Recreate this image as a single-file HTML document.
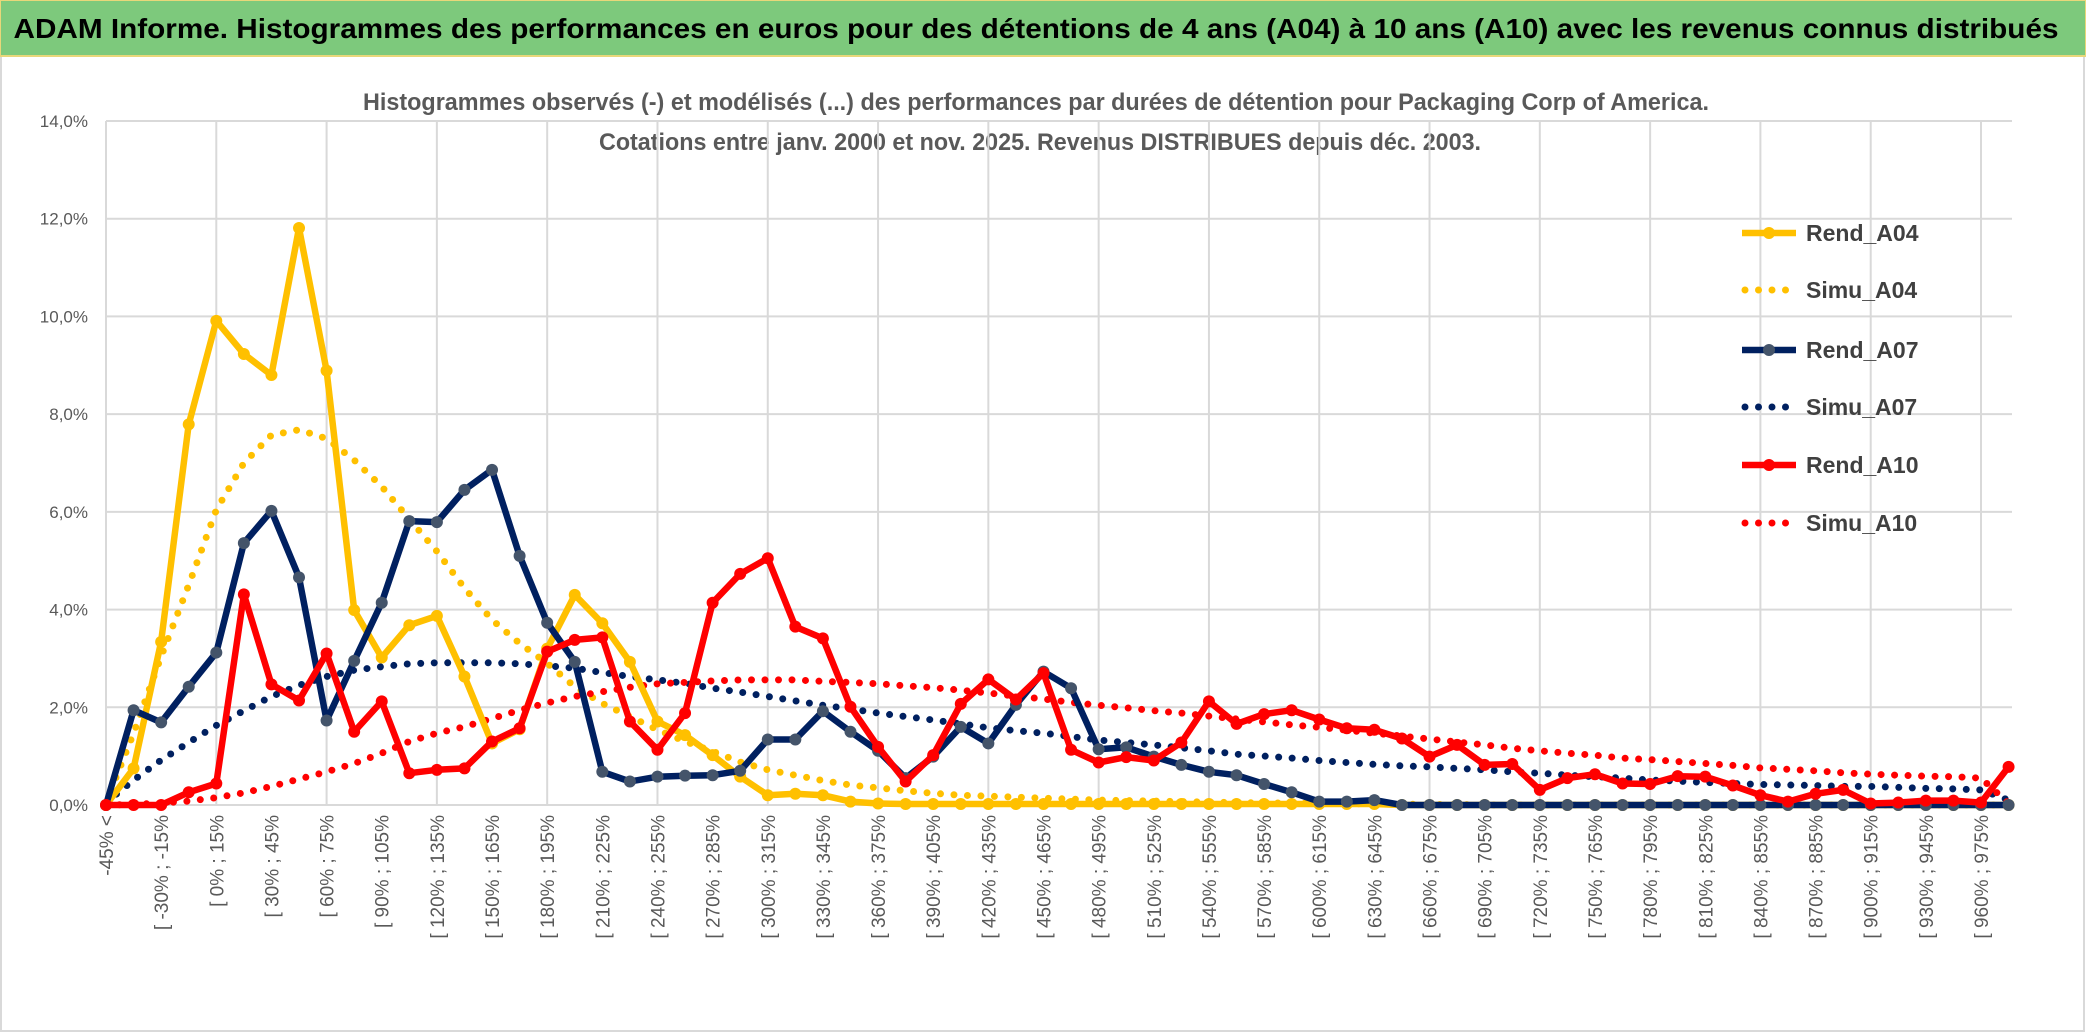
<!DOCTYPE html>
<html><head><meta charset="utf-8"><style>
html,body{margin:0;padding:0;background:#fff;}
svg{display:block;font-family:"Liberation Sans",sans-serif;}
</style></head><body>
<svg id="chart" width="2086" height="1033" viewBox="0 0 2086 1033">
<rect x="0" y="0" width="2086" height="1033" fill="#fff"/>
<rect x="1" y="56" width="2083" height="975" fill="#fff" stroke="#d9d9d9" stroke-width="2"/>
<rect x="0" y="0" width="2086" height="56" fill="#7dc97c" stroke="#e8d77a" stroke-width="2"/>
<text x="1036" y="38" text-anchor="middle" font-size="28" font-weight="bold" fill="#000" textLength="2045" lengthAdjust="spacingAndGlyphs">ADAM Informe. Histogrammes des performances en euros pour des détentions de 4 ans (A04) à 10 ans (A10) avec les revenus connus distribués</text>
<text x="1036" y="110" text-anchor="middle" font-size="24" font-weight="bold" fill="#595959" textLength="1346" lengthAdjust="spacingAndGlyphs">Histogrammes observés (-) et modélisés (...) des performances par durées de détention pour Packaging Corp of America.</text>
<text x="1040" y="150" text-anchor="middle" font-size="24" font-weight="bold" fill="#595959" textLength="882" lengthAdjust="spacingAndGlyphs">Cotations entre janv. 2000 et nov. 2025. Revenus DISTRIBUES depuis déc. 2003.</text>
<g id="grid"></g>
<g id="ylabels"></g>
<g id="xlabels"></g>
<g id="series"></g>
<g id="legend"></g>
</svg>
<script>
const categories = (function(){const a=["-45% <"];for(let v=-45;v<990;v+=15){a.push("[ "+v+"% ; "+(v+15)+"%");}return a;})();
const yTicks = [0,2,4,6,8,10,12,14];
const yTickLabels = ["0,0%","2,0%","4,0%","6,0%","8,0%","10,0%","12,0%","14,0%"];
const seriesNames = ["Rend_A04","Simu_A04","Rend_A07","Simu_A07","Rend_A10","Simu_A10"];
const rendA04 = [0,0.75,3.34,7.79,9.91,9.23,8.8,11.81,8.89,3.99, 3.02,3.68,3.87,2.63,1.26,1.55,3.2,4.3,3.72,2.93, 1.71,1.43,1.02,0.58,0.2,0.23,0.2,0.07,0.03,0.02, 0.02,0.02,0.02,0.02,0.02,0.02,0.02,0.02,0.02,0.02, 0.02,0.02,0.02,0.02,0.02,0.02,0.02,0,0,0, 0,0,0,0,0,0,0,0,0,0, 0,0,0,0,0,0,0,0,0,0];
const simA04 = [0.05,1.47,3.04,4.5,6.04,7.0,7.57,7.68,7.5,7.06, 6.52,5.85,5.19,4.44,3.79,3.31,2.9,2.42,2.08,1.81, 1.54,1.3,1.1,0.88,0.72,0.61,0.5,0.41,0.35,0.29, 0.24,0.2,0.18,0.16,0.14,0.12,0.1,0.09,0.08,0.07, 0.06,0.05,0.04,0.04,0.03,0.03,0.02,0.02,0.01,0.01, 0,0,0,0,0,0,0,0,0,0, 0,0,0,0,0,0,0,0,0,0];
const rendA07 = [0,1.94,1.69,2.42,3.12,5.36,6.02,4.66,1.73,2.95, 4.14,5.81,5.79,6.45,6.86,5.1,3.73,2.93,0.68,0.48, 0.58,0.6,0.61,0.7,1.34,1.34,1.92,1.5,1.11,0.55, 0.99,1.6,1.26,2.05,2.73,2.39,1.14,1.18,0.99,0.82, 0.68,0.61,0.43,0.26,0.07,0.07,0.1,0,0,0, 0,0,0,0,0,0,0,0,0,0, 0,0,0,0,0,0,0,0,0,0];
const simA07 = [0.05,0.51,0.92,1.28,1.63,1.93,2.22,2.45,2.63,2.76, 2.83,2.89,2.91,2.91,2.91,2.89,2.85,2.8,2.71,2.63, 2.56,2.49,2.39,2.31,2.22,2.13,2.04,1.97,1.88,1.81, 1.74,1.66,1.58,1.52,1.47,1.4,1.33,1.28,1.23,1.17, 1.11,1.04,1.0,0.96,0.91,0.87,0.83,0.8,0.78,0.75, 0.72,0.68,0.65,0.61,0.58,0.55,0.51,0.49,0.46,0.44, 0.42,0.41,0.40,0.38,0.38,0.36,0.34,0.33,0.31,0.1];
const rendA10 = [0,0,0,0.26,0.44,4.31,2.47,2.14,3.1,1.5, 2.12,0.65,0.72,0.75,1.3,1.57,3.14,3.38,3.43,1.71, 1.13,1.88,4.14,4.73,5.05,3.65,3.41,2.01,1.19,0.48, 1.02,2.07,2.57,2.16,2.7,1.13,0.87,0.98,0.91,1.28, 2.12,1.66,1.86,1.94,1.75,1.57,1.54,1.36,0.99,1.23, 0.82,0.84,0.31,0.55,0.63,0.44,0.43,0.59,0.58,0.4, 0.2,0.07,0.23,0.31,0.03,0.05,0.09,0.09,0.05,0.78];
const simA10 = [0,0.01,0.04,0.08,0.15,0.25,0.38,0.53,0.68,0.85, 1.06,1.3,1.47,1.6,1.77,1.94,2.09,2.22,2.32,2.41, 2.48,2.51,2.54,2.56,2.56,2.56,2.53,2.51,2.48,2.44, 2.4,2.35,2.29,2.23,2.17,2.1,2.04,1.99,1.93,1.88, 1.82,1.76,1.7,1.64,1.59,1.53,1.47,1.41,1.35,1.29, 1.23,1.16,1.11,1.06,1.02,0.96,0.93,0.89,0.85,0.81, 0.76,0.73,0.7,0.66,0.63,0.61,0.59,0.58,0.55,0.03];

const NS="http://www.w3.org/2000/svg";
const X0=106, X1=2012, Y0=805, YMAX=14, YTOP=121;
const step=(1981-X0)/68;
function xPos(i){return X0+i*step;}
function yPos(v){return Y0-(v/YMAX)*(Y0-YTOP);}
function mk(tag,attrs,parent){const e=document.createElementNS(NS,tag);for(const k in attrs)e.setAttribute(k,attrs[k]);parent.appendChild(e);return e;}

const grid=document.getElementById('grid');
yTicks.forEach((t,k)=>{
  const l=mk('line',{x1:X0,x2:X1,y1:yPos(t),y2:yPos(t),stroke:'#d9d9d9','stroke-width':2},grid);
  
  
  const tx=mk('text',{x:88,y:yPos(t)+6,'text-anchor':'end','font-size':17,fill:'#595959'},document.getElementById('ylabels'));
  tx.textContent=yTickLabels[k];
  
  
});
for(let i=0;i<categories.length;i+=4){
  const l=mk('line',{x1:xPos(i),x2:xPos(i),y1:YTOP,y2:Y0,stroke:'#d9d9d9','stroke-width':2},grid);
  
  
}
const xl=document.getElementById('xlabels');
for(let i=0;i<categories.length;i+=2){
  const t=mk('text',{x:0,y:0,'text-anchor':'end','font-size':19,fill:'#595959',transform:'translate('+(xPos(i)+7)+',815) rotate(-90)'},xl);
  t.textContent=categories[i];
  
  
}
const sg=document.getElementById('series');
function drawSeries(vals,color,dotted,markerFill,name){
  const g=mk('g',{},sg);
  
  
  const pts=vals.map((v,i)=>xPos(i).toFixed(1)+','+yPos(v).toFixed(1)).join(' ');
  if(dotted){
    mk('polyline',{points:pts,fill:'none',stroke:color,'stroke-width':7,'stroke-linecap':'round','stroke-dasharray':'0 13.5'},g);
  } else {
    mk('polyline',{points:pts,fill:'none',stroke:color,'stroke-width':6.5,'stroke-linejoin':'round'},g);
    vals.forEach((v,i)=>{
      const c=mk('circle',{cx:xPos(i),cy:yPos(v),r:6,fill:markerFill},g);
      
      
    });
  }
}
drawSeries(simA04,'#ffc000',true,null,'series-simu-a04');
drawSeries(simA07,'#002060',true,null,'series-simu-a07');
drawSeries(simA10,'#ff0000',true,null,'series-simu-a10');
drawSeries(rendA04,'#ffc000',false,'#ffc000','series-rend-a04');
drawSeries(rendA07,'#002060',false,'#44546a','series-rend-a07');
drawSeries(rendA10,'#ff0000',false,'#ff0000','series-rend-a10');

const lg=document.getElementById('legend');
const legColors=['#ffc000','#ffc000','#002060','#002060','#ff0000','#ff0000'];
const legMarker=['#ffc000',null,'#44546a',null,'#ff0000',null];
const legY=[233,290,350,407,465,523];
seriesNames.forEach((n,k)=>{
  const g=mk('g',{},lg);
  
  
  if(legMarker[k]){
    mk('line',{x1:1742,x2:1796,y1:legY[k],y2:legY[k],stroke:legColors[k],'stroke-width':6.5},g);
    mk('circle',{cx:1769,cy:legY[k],r:6,fill:legMarker[k]},g);
  } else {
    mk('line',{x1:1745,x2:1796,y1:legY[k],y2:legY[k],stroke:legColors[k],'stroke-width':7,'stroke-linecap':'round','stroke-dasharray':'0 13.5'},g);
  }
  const t=mk('text',{x:1806,y:legY[k]+8,'font-size':23,'font-weight':'bold',fill:'#404040'},g);
  t.textContent=n;
});
</script>
</body></html>
